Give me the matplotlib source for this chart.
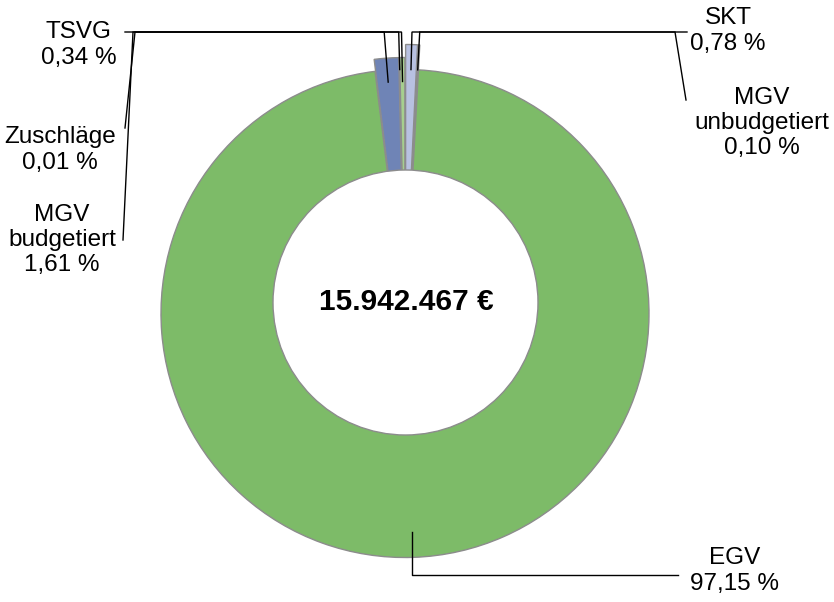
import matplotlib
matplotlib.use("Agg")
import matplotlib.pyplot as plt
from matplotlib.patches import Circle
import numpy as np

plt.rcParams['font.family'] = ['Liberation Sans', 'DejaVu Sans']

# Shares of the total (percent), in clockwise order from 12 o'clock
categories = ["SKT", "MGV\nunbudgetiert", "EGV", "MGV\nbudgetiert", "Zuschläge", "TSVG"]
shares = [0.78, 0.10, 97.15, 1.61, 0.01, 0.34]
share_labels = ["0,78 %", "0,10 %", "97,15 %", "1,61 %", "0,01 %", "0,34 %"]
total_label = "15.942.467 €"

colors = ["#B8C1E1", "#9FA6C4", "#7DBB68", "#6F84B6", "#4F6FB0", "#A6CF8E"]
explode = [25, 25, 0, 12, 12, 12]

W, H = 834, 602
CX, CY = 405, H - 313.5          # ring centre
R = 244                          # outer radius
HX, HY, HR = 405.5, H - 302.5, 132.5   # hole

fig = plt.figure(figsize=(W / 100, H / 100), dpi=100)
ax = fig.add_axes([0, 0, 1, 1])

edge = "#8C8C8C"
wedges, _ = ax.pie(shares, startangle=90, counterclock=False, radius=R,
                   center=(CX, CY), explode=explode, colors=colors,
                   wedgeprops=dict(edgecolor=edge, linewidth=1.0))
ax.add_patch(Circle((HX, HY), HR, facecolor="white", edgecolor=edge,
                    linewidth=1.0, zorder=3))

ax.set_xlim(0, W)
ax.set_ylim(0, H)
ax.set_aspect('auto')
ax.axis('off')

# angle (degrees clockwise from top) of each slice's midpoint
cum = np.cumsum([0] + shares[:-1])
mid_deg = (cum + np.array(shares) / 2) / sum(shares) * 360.0


def anchor(i, r):
    a = np.deg2rad(mid_deg[i])
    ox = explode[i] * np.sin(a)
    oy = explode[i] * np.cos(a)
    return CX + ox + r * np.sin(a), CY + oy + r * np.cos(a)


def y(v):
    return H - v

lw = 1.0
lc = "black"
ELB = y(32)

# leader lines: label side -> elbow row -> slice
leaders = {
    5: ([(125, y(32))], 220, -1),              # TSVG
    4: ([(125, y(128)), (135, ELB)], 232, -1),  # Zuschläge
    3: ([(123, y(240)), (133, ELB)], 220, -4),  # MGV budgetiert
    0: ([(687, ELB)], 219, 1),                 # SKT
    1: ([(686, y(100)), (675, ELB)], 219, 2),   # MGV unbudgetiert
}
for i, (pts, r, dx) in leaders.items():
    ax_, ay_ = anchor(i, r)
    xs = [p[0] for p in pts] + [ax_ + dx, ax_]
    ys = [p[1] for p in pts] + [ELB, ay_]
    ax.plot(xs, ys, color=lc, lw=lw, solid_joinstyle='miter', zorder=4)

ex, ey = anchor(2, 219)
ax.plot([678, ex, ex], [y(575), y(575), ey], color=lc, lw=lw, zorder=4)

fs = 17.5
label_pos = {
    0: (728, y(31)),
    1: (762, y(123)),
    2: (735, y(571)),
    3: (62, y(240)),
    4: (60, y(150)),
    5: (79, y(45)),
}
for i, (tx, ty) in label_pos.items():
    ax.text(tx, ty, f"{categories[i]}\n{share_labels[i]}", ha="center", va="center",
            fontsize=fs, linespacing=1.2, color="black")

ax.text(HX + 0.5, y(302), total_label, ha="center", va="center", fontsize=21.5,
        fontweight="bold", color="black", zorder=5)

fig.savefig("out.png", dpi=100)
